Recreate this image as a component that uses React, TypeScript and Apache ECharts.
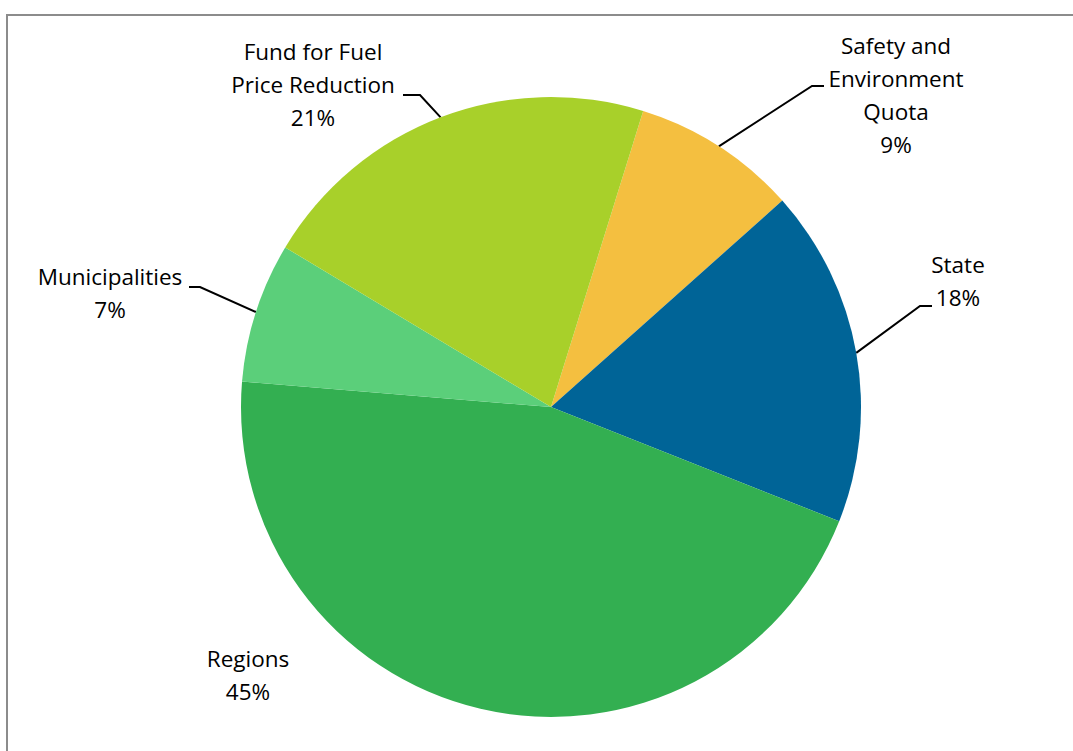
import React, { useEffect, useRef } from "react";
import * as echarts from "echarts";

const categories = [
  "Safety and\nEnvironment\nQuota",
  "State",
  "Regions",
  "Municipalities",
  "Fund for Fuel\nPrice Reduction",
];
const values = [8.6, 17.6, 45.3, 7.3, 21.2];
const colors = ["#F4BF40", "#006497", "#33AF51", "#5BCF7A", "#A8D02A"];

// label layout (text block centre, line end on label side, elbow)
const labelPos = [
  { x: 896, y: 95, end: [824, 86], elbow: [812, 86] },
  { x: 958, y: 281, end: [932, 306], elbow: [920, 306] },
  { x: 248, y: 675, end: null, elbow: null },
  { x: 110, y: 293, end: [189, 287], elbow: [200, 287] },
  { x: 313, y: 84, end: [403, 95], elbow: [420, 95] },
];

export default function App() {
  const ref = useRef<HTMLDivElement>(null);
  useEffect(() => {
    if (!ref.current) return;
    const chart = echarts.init(ref.current, null, { renderer: "svg" });
    const total = values.reduce((a, b) => a + b, 0);
    chart.setOption({
      animation: false,
      backgroundColor: "#ffffff",
      graphic: [
        {
          type: "rect",
          shape: { x: 7, y: 15, width: 1100, height: 800 },
          style: { fill: "none", stroke: "#8c8c8c", lineWidth: 2 },
          silent: true,
          z: 0,
        },
      ],
      series: [
        {
          type: "pie",
          center: [551, 407],
          radius: 310,
          startAngle: 72.7,
          clockwise: true,
          avoidLabelOverlap: false,
          data: categories.map((name, i) => ({
            name,
            value: values[i],
            itemStyle: { color: colors[i] },
            labelLine: { show: labelPos[i].end != null },
          })),
          itemStyle: { borderWidth: 0 },
          label: {
            show: true,
            position: "outside",
            formatter: (p: any) =>
              `${p.name}\n${Math.round((p.value / total) * 100)}%`,
            fontFamily: "Open Sans",
            fontSize: 22.5,
            lineHeight: 33,
            color: "#000000",
            align: "center",
          },
          labelLine: {
            show: true,
            length: 20,
            length2: 10,
            lineStyle: { color: "#000000", width: 2 },
          },
          labelLayout: (params: any) => {
            const lp = labelPos[params.dataIndex];
            const res: any = {
              x: lp.x,
              y: lp.y,
              align: "center",
              verticalAlign: "middle",
            };
            if (lp.end && params.labelLinePoints) {
              const p0 = params.labelLinePoints[0];
              res.labelLinePoints = [p0, lp.elbow, lp.end];
            }
            return res;
          },
        },
      ],
    });
    return () => chart.dispose();
  }, []);
  return (
    <div
      ref={ref}
      style={{ position: "absolute", left: 0, top: 0, width: 1073, height: 751 }}
    />
  );
}
